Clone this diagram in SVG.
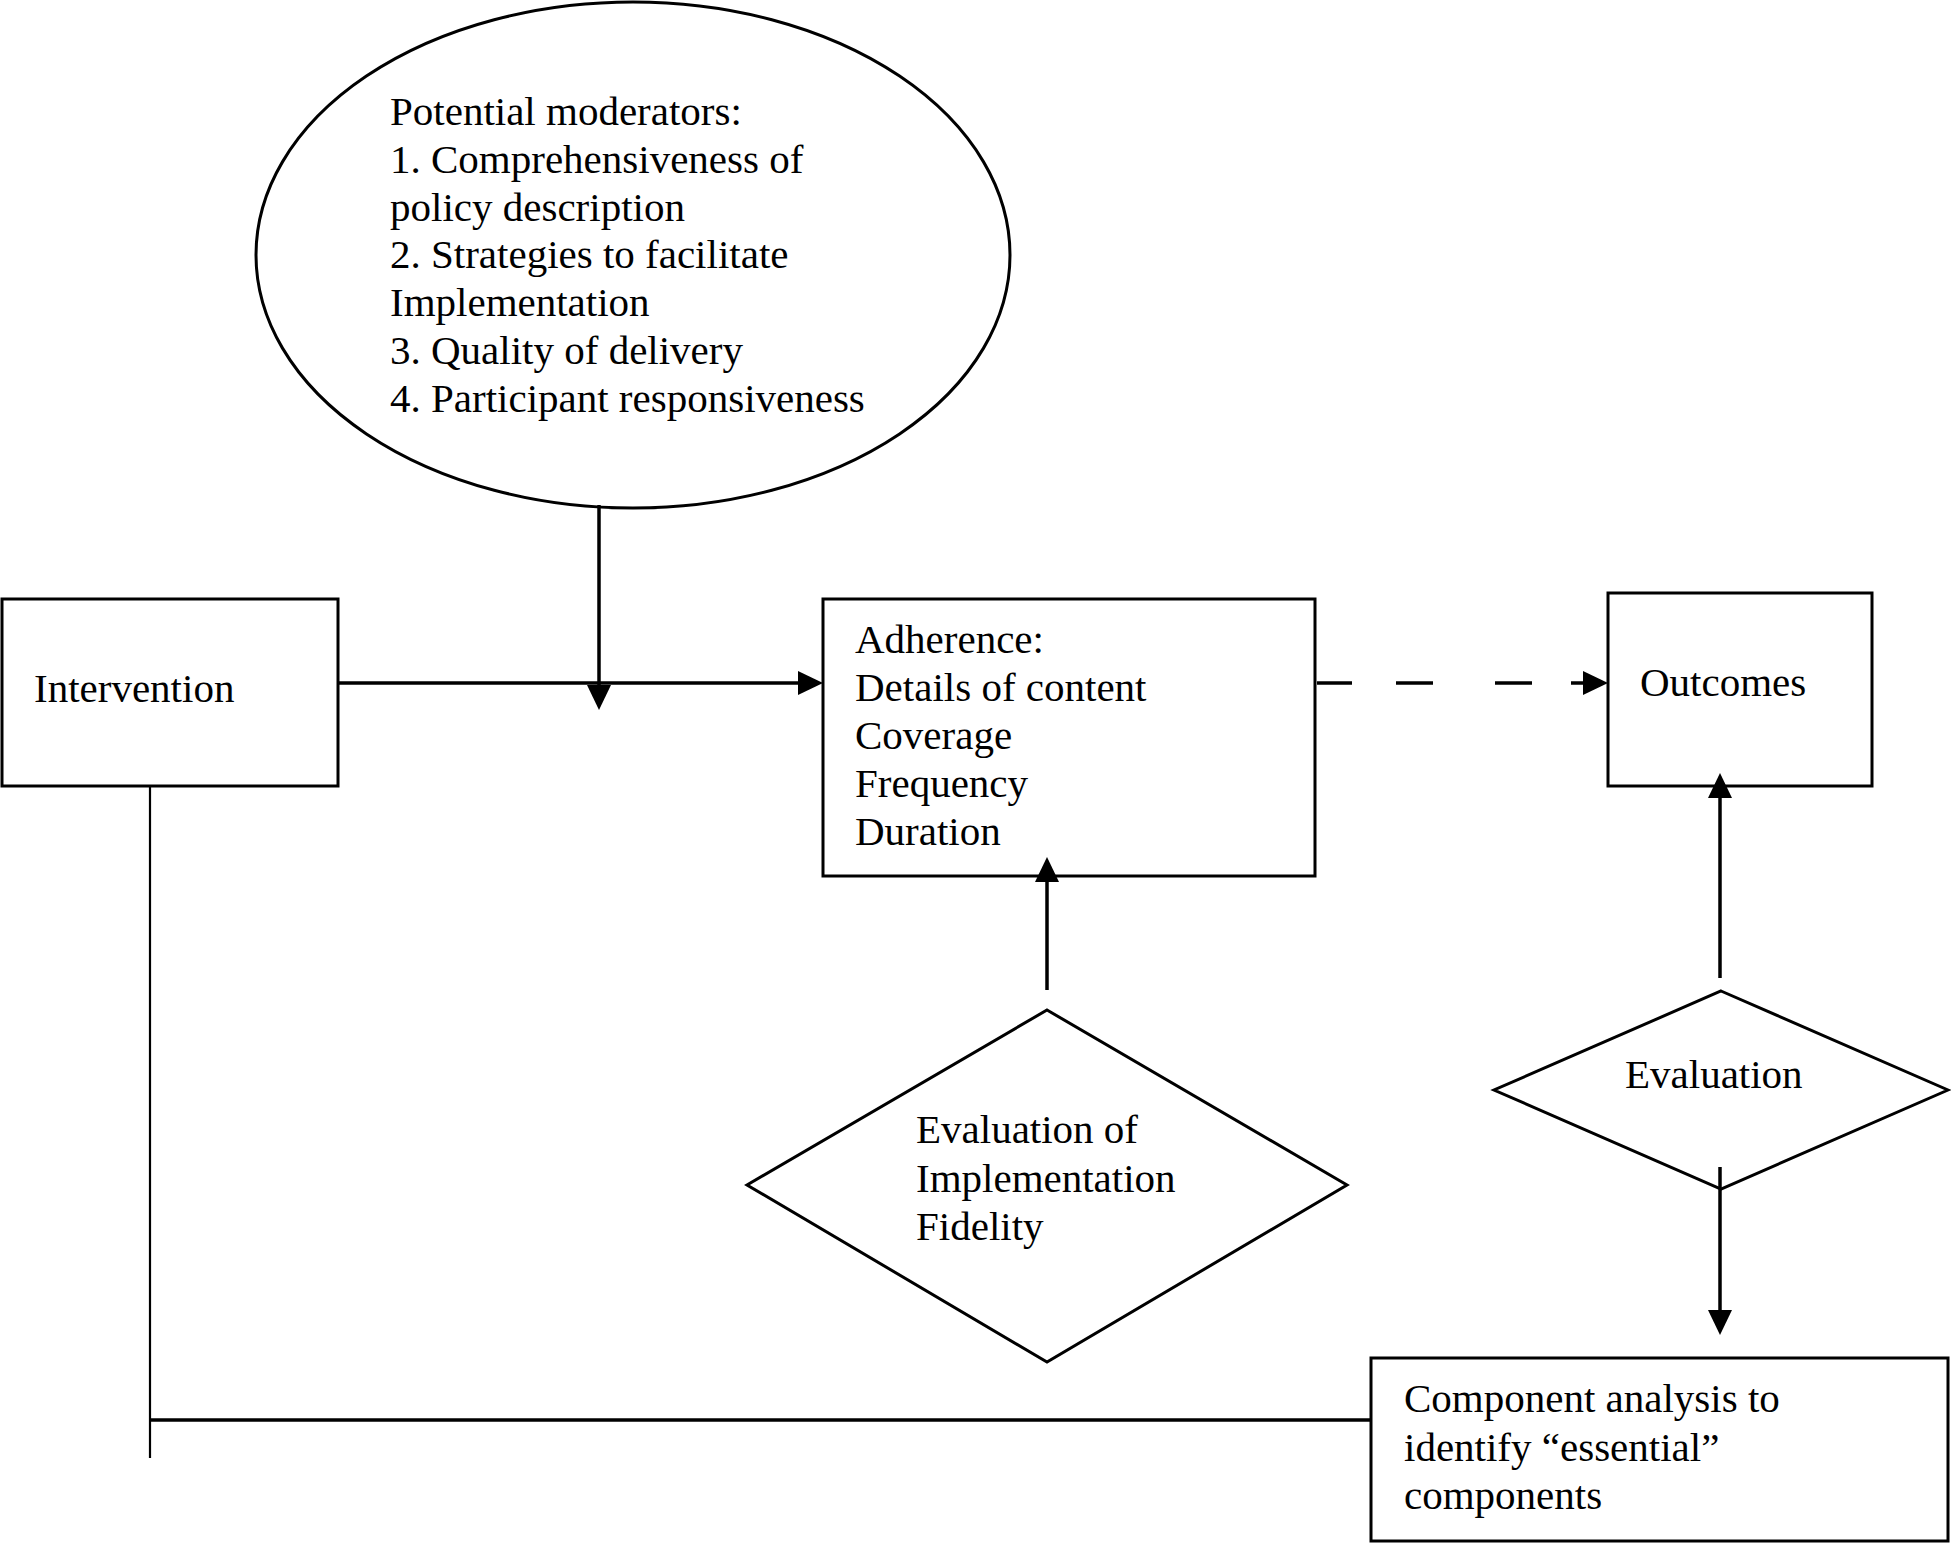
<svg xmlns="http://www.w3.org/2000/svg" width="1951" height="1544" viewBox="0 0 1951 1544">
<style>
.shape{fill:#fff;stroke:#000;stroke-width:3}
.t{font-family:"Liberation Serif","Times New Roman",serif;font-size:41px;fill:#000}
.c{fill:none;stroke:#000;stroke-width:3.5}
.thin{fill:none;stroke:#000;stroke-width:2.2}
</style>
<defs>
<marker id="ah" markerUnits="userSpaceOnUse" markerWidth="26" markerHeight="26" refX="0" refY="12" orient="auto" viewBox="0 0 26 24">
<path d="M0,0 L25,12 L0,24 z" fill="#000"/>
</marker>
</defs>
<rect width="1951" height="1544" fill="#fff"/>
<g id="moderators">
<ellipse class="shape" cx="633" cy="255" rx="377" ry="253"/>
<text class="t" x="390" y="125">Potential moderators:</text>
<text class="t" x="390" y="173">1. Comprehensiveness of</text>
<text class="t" x="390" y="221">policy description</text>
<text class="t" x="390" y="268">2. Strategies to facilitate</text>
<text class="t" x="390" y="316">Implementation</text>
<text class="t" x="390" y="364">3. Quality of delivery</text>
<text class="t" x="390" y="412">4. Participant responsiveness</text>
</g>
<g id="intervention">
<rect class="shape" x="2" y="599" width="336" height="187"/>
<text class="t" x="34" y="702">Intervention</text>
</g>
<g id="adherence">
<rect class="shape" x="823" y="599" width="492" height="277"/>
<text class="t" x="855" y="653">Adherence:</text>
<text class="t" x="855" y="701">Details of content</text>
<text class="t" x="855" y="749">Coverage</text>
<text class="t" x="855" y="797">Frequency</text>
<text class="t" x="855" y="845">Duration</text>
</g>
<g id="outcomes">
<rect class="shape" x="1608" y="593" width="264" height="193"/>
<text class="t" x="1640" y="696">Outcomes</text>
</g>
<g id="eval-fidelity">
<polygon class="shape" points="1047,1010 1347,1185 1047,1362 747,1185"/>
<text class="t" x="916" y="1143">Evaluation of</text>
<text class="t" x="916" y="1192">Implementation</text>
<text class="t" x="916" y="1240">Fidelity</text>
</g>
<g id="evaluation">
<polygon class="shape" points="1721,991 1948,1090 1721,1189 1494,1090"/>
<text class="t" x="1625" y="1088">Evaluation</text>
</g>
<g id="component">
<rect class="shape" x="1371" y="1358" width="577" height="183"/>
<text class="t" x="1404" y="1412">Component analysis to</text>
<text class="t" x="1404" y="1461">identify “essential”</text>
<text class="t" x="1404" y="1509">components</text>
</g>
<g id="connectors">
<line class="c" x1="339" y1="683" x2="798" y2="683" marker-end="url(#ah)"/>
<line class="c" x1="599" y1="505" x2="599" y2="685" marker-end="url(#ah)"/>
<line class="c" x1="1317" y1="683" x2="1352" y2="683"/>
<line class="c" x1="1396" y1="683" x2="1433" y2="683"/>
<line class="c" x1="1495" y1="683" x2="1532" y2="683"/>
<line class="c" x1="1571" y1="683" x2="1583" y2="683" marker-end="url(#ah)"/>
<line class="c" x1="1047" y1="990" x2="1047" y2="882" marker-end="url(#ah)"/>
<line class="c" x1="1720" y1="978" x2="1720" y2="798" marker-end="url(#ah)"/>
<line class="c" x1="1720" y1="1167" x2="1720" y2="1310" marker-end="url(#ah)"/>
<line class="thin" x1="150" y1="786" x2="150" y2="1458"/>
<line class="c" x1="150" y1="1420" x2="1371" y2="1420"/>
</g>
</svg>
